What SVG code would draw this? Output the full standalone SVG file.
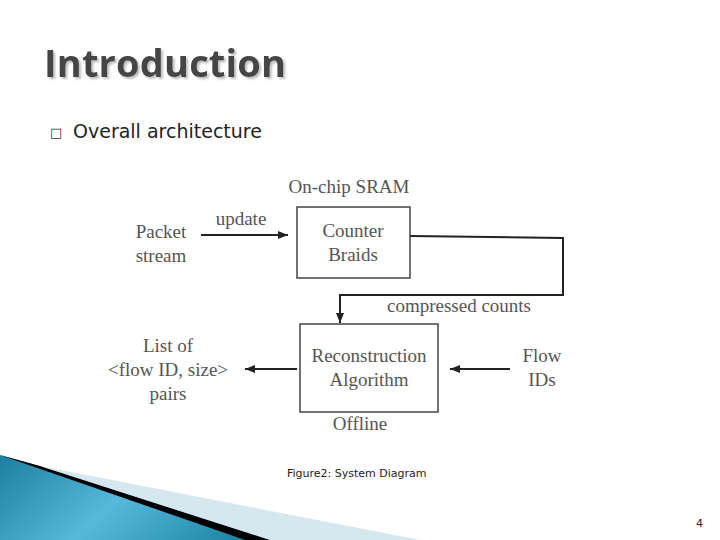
<svg xmlns="http://www.w3.org/2000/svg" width="720" height="540" viewBox="0 0 720 540">
<defs>
<marker id="ah" markerWidth="10" markerHeight="8" refX="10" refY="4" orient="auto" markerUnits="userSpaceOnUse"><path d="M0,0 L10,4 L0,8 Z" fill="#222"/></marker>
<linearGradient id="g1" x1="0" y1="0" x2="1" y2="0.3"><stop offset="0" stop-color="#1a7fa0"/><stop offset="0.5" stop-color="#55b9da"/><stop offset="1" stop-color="#1f86a8"/></linearGradient>
<filter id="sh" x="-5%" y="-20%" width="110%" height="140%"><feDropShadow dx="2" dy="2" stdDeviation="1" flood-color="#bbb"/></filter>
</defs>
<style>
.d{font-family:"Liberation Serif",serif;font-size:19px;fill:#555}
.box{fill:#fff;stroke:#444;stroke-width:1.5}
.c{stroke:#222;stroke-width:2;fill:none}
</style>
<rect width="720" height="540" fill="#fff"/>
<polygon points="0,455 300,540 0,540" fill="url(#g1)"/>
<polygon points="0,455 40,466 270,540 245,540" fill="#000"/>
<polygon points="40,466 420,540 270,540" fill="#d6e8ef"/>
<text x="44" y="77" font-family="'Open Sans',sans-serif" font-weight="bold" font-size="38" fill="#444" textLength="242" filter="url(#sh)">Introduction</text>
<text x="50" y="137" font-family="'DejaVu Sans',sans-serif" font-size="13" fill="#333">□</text>
<text x="73" y="138" font-family="'DejaVu Sans',sans-serif" font-size="19" fill="#222">Overall architecture</text>
<g id="connectors">
<line class="c" x1="201" y1="235" x2="288" y2="235" marker-end="url(#ah)"/>
<polyline class="c" points="410,236 563,238 563,295 340,295 340,323" marker-end="url(#ah)"/>
<line class="c" x1="510" y1="369" x2="450" y2="369" marker-end="url(#ah)"/>
<line class="c" x1="297" y1="369" x2="245" y2="369" marker-end="url(#ah)"/>
</g>
<g id="counter"><rect class="box" x="297" y="207" width="113" height="71"/><text class="d" x="353" y="237" text-anchor="middle">Counter</text><text class="d" x="353" y="261" text-anchor="middle">Braids</text></g>
<g id="recon"><rect class="box" x="300" y="324" width="138" height="88"/><text class="d" x="369" y="362" text-anchor="middle">Reconstruction</text><text class="d" x="369" y="386" text-anchor="middle">Algorithm</text></g>
<g id="labels">
<text class="d" x="349" y="193" text-anchor="middle">On-chip SRAM</text>
<text class="d" x="241" y="225" text-anchor="middle">update</text>
<text class="d" x="161" y="238" text-anchor="middle">Packet</text>
<text class="d" x="161" y="262" text-anchor="middle">stream</text>
<text class="d" x="459" y="312" text-anchor="middle">compressed counts</text>
<text class="d" x="168" y="352" text-anchor="middle">List of</text>
<text class="d" x="168" y="376" text-anchor="middle">&lt;flow ID, size&gt;</text>
<text class="d" x="168" y="400" text-anchor="middle">pairs</text>
<text class="d" x="542" y="362" text-anchor="middle">Flow</text>
<text class="d" x="542" y="386" text-anchor="middle">IDs</text>
<text class="d" x="360" y="430" text-anchor="middle">Offline</text>
</g>
<text x="287" y="477" font-family="'DejaVu Sans',sans-serif" font-size="11" fill="#222">Figure2: System Diagram</text>
<text x="696" y="527" font-family="'DejaVu Sans',sans-serif" font-size="11" fill="#222">4</text>
</svg>
